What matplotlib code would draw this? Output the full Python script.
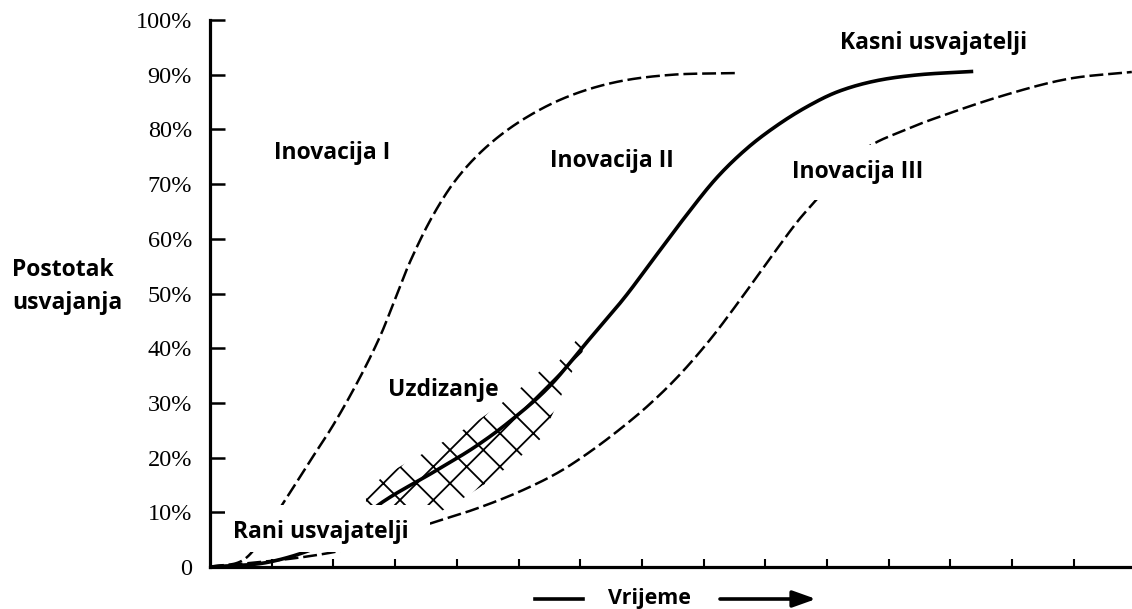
import numpy as np
import matplotlib
matplotlib.use("Agg")
import matplotlib.pyplot as plt
from matplotlib.patches import Rectangle, FancyArrowPatch
from matplotlib.lines import Line2D

# ---------------- data ----------------
y_ticks = [0, 10, 20, 30, 40, 50, 60, 70, 80, 90, 100]
y_tick_labels = ["0", "10%", "20%", "30%", "40%", "50%", "60%", "70%", "80%", "90%", "100%"]
x_ticks = [1, 2, 3, 4, 5, 6, 7, 8, 9, 10, 11, 12, 13, 14]

inov1_x = [0, 0.6, 1.17, 1.6, 2.0, 2.4, 2.75, 3.0, 3.25, 3.6, 4.0, 4.5, 5.1, 5.8, 6.6, 7.5, 8.53]
inov1_y = [0, 1.8, 11.4, 19.0, 26.0, 34.0, 42.0, 49.0, 56.0, 64.0, 71.0, 77.0, 82.0, 86.0, 88.7, 90.0, 90.3]

inov2_x = [0, 1.0, 2.0, 2.8, 3.6, 4.3, 4.9, 5.5, 6.1, 6.7, 7.2, 7.7, 8.2, 8.7, 9.2, 9.7, 10.2, 10.8, 11.5, 12.37]
inov2_y = [0, 1.0, 5.0, 11.9, 17.2, 22.0, 27.0, 33.0, 41.0, 49.0, 56.5, 64.0, 71.0, 76.5, 80.8, 84.3, 87.0, 88.9, 90.0, 90.6]

inov3_x = [0, 1.5, 2.5, 3.61, 4.3, 4.98, 5.6, 6.1, 6.6, 7.1, 7.6, 8.1, 8.57, 9.05, 9.51, 9.84, 10.35, 10.76, 11.2, 11.72, 12.8, 13.89, 14.94]
inov3_y = [0, 1.8, 4.0, 8.1, 10.6, 13.6, 17.0, 20.6, 24.8, 29.5, 35.0, 41.5, 48.5, 56.0, 63.0, 67.3, 74.2, 77.4, 79.6, 81.9, 86.0, 89.2, 90.5]

band_x = [2.5, 6.05]           # extent of the "Uzdizanje" hatched band along Inovacija II
band_up, band_down = 4.5, 8.0  # offsets (percentage points) above / below the curve

labels = {
    "Inovacija I": (1.98, 75.7),
    "Inovacija II": (6.52, 74.2),
    "Inovacija III": (10.50, 72.2),
    "Kasni usvajatelji": (11.72, 95.8),
    "Uzdizanje": (3.78, 32.4),
    "Rani usvajatelji": (1.80, 6.4),
}


def smooth(xs, ys, n=20):
    """Catmull-Rom rendering of a polyline through the given points."""
    p = np.column_stack([xs, ys]).astype(float)
    p = np.vstack([p[0] - (p[1] - p[0]), p, p[-1] + (p[-1] - p[-2])])
    out = []
    t = np.linspace(0, 1, n, endpoint=False)[:, None]
    for i in range(1, len(p) - 2):
        p0, p1, p2, p3 = p[i - 1], p[i], p[i + 1], p[i + 2]
        seg = 0.5 * ((2 * p1) + (-p0 + p2) * t + (2 * p0 - 5 * p1 + 4 * p2 - p3) * t ** 2
                     + (-p0 + 3 * p1 - 3 * p2 + p3) * t ** 3)
        out.append(seg)
    out.append(p[-2][None, :])
    out = np.vstack(out)
    return out[:, 0], out[:, 1]


plt.rcParams["lines.scale_dashes"] = False
plt.rcParams["hatch.linewidth"] = 1.3

W, H = 1132, 609
fig = plt.figure(figsize=(W / 100, H / 100), dpi=100)
ax = fig.add_axes([210 / W, 42 / H, 922 / W, 547 / H])
ax.set_xlim(0, 922 / 61.7)
ax.set_ylim(0, 100)

for s in ["top", "right"]:
    ax.spines[s].set_visible(False)
for s in ["left", "bottom"]:
    ax.spines[s].set_linewidth(2.3)
    ax.spines[s].set_capstyle("projecting")

ax.set_yticks(y_ticks)
ax.set_yticklabels(y_tick_labels, fontfamily="Liberation Serif", fontsize=17.5)
ax.tick_params(axis="y", direction="in", length=11, width=1.8, pad=13)
ax.set_xticks(x_ticks)
ax.set_xticklabels([])
ax.tick_params(axis="x", direction="in", length=6, width=1.5)

dash = (0, (10, 3.5))
xs, ys = smooth(inov1_x, inov1_y)
ax.plot(xs, ys, color="black", lw=1.8, ls=dash, zorder=3)
x2s, y2s = smooth(inov2_x, inov2_y)
ax.plot(x2s, y2s, color="black", lw=2.6, solid_capstyle="butt", zorder=3)
xs, ys = smooth(inov3_x, inov3_y)
ax.plot(xs, ys, color="black", lw=1.8, ls=dash, clip_on=False, zorder=3)

# hatched band "Uzdizanje" (tapers towards its upper end)
sel = (x2s >= band_x[0]) & (x2s <= band_x[1])
bx, by = x2s[sel], y2s[sel]
taper = np.clip((band_x[1] - bx) / 0.7, 0.25, 1.0)
ax.fill_between(bx, by - band_down * taper, by + band_up * np.clip(taper, 0.6, 1.0),
                facecolor="none", edgecolor="black", hatch="x", lw=0, zorder=2)

# white areas behind labels (they hide parts of the curves)
ax.add_patch(Rectangle((0.24, 2.75), 3.33, 8.6, facecolor="white", edgecolor="none", zorder=4))
ax.add_patch(Rectangle((9.32, 67.1), 2.35, 10.0, facecolor="white", edgecolor="none", zorder=4))

font = dict(family="Open Sans", weight="bold", fontsize=16.5, color="black")
for txt, (lx, ly) in labels.items():
    ax.text(lx, ly, txt, ha="center", va="center", zorder=5, **font)

fig.text(12 / W, 1 - 270 / H, "Postotak", ha="left", va="center", **font)
fig.text(12 / W, 1 - 303 / H, "usvajanja", ha="left", va="center", **font)

# "Vrijeme" with arrow
yv = 1 - 599 / H
fig.text(649 / W, 1 - 604 / H, "Vrijeme", ha="center", va="baseline",
         **{**font, "fontsize": 15.5})
fig.add_artist(Line2D([535 / W, 583 / W], [yv, yv], transform=fig.transFigure, color="black", lw=2.6))
fig.add_artist(FancyArrowPatch((720 / W, yv), (816 / W, yv), transform=fig.transFigure,
                               arrowstyle="-|>,head_length=14,head_width=5", color="black",
                               lw=2.6, mutation_scale=1, shrinkA=0, shrinkB=0))

fig.savefig("out.png", dpi=100, facecolor="white")
